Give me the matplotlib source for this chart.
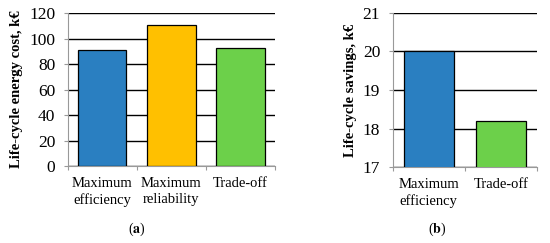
import matplotlib.pyplot as plt

plt.rcParams['font.family'] = ['Liberation Serif', 'DejaVu Serif']
plt.rcParams['mathtext.fontset'] = 'stix'

# panel (a)
cats_a = ['Maximum\nefficiency', 'Maximum\nreliability', 'Trade-off']
cost_a = [91.2, 111.1, 93.0]
colors_a = ['#2A7FC1', '#FFC000', '#6CD04A']
yticks_a = [0, 20, 40, 60, 80, 100, 120]

# panel (b)
cats_b = ['Maximum\nefficiency', 'Trade-off']
savings_b = [20.0, 18.2]
colors_b = ['#2A7FC1', '#6CD04A']
yticks_b = [17, 18, 19, 20, 21]

fig = plt.figure(figsize=(5.5, 2.43), dpi=100)
ax1 = fig.add_axes([0.123, 0.317, 0.377, 0.628])
ax2 = fig.add_axes([0.714, 0.3115, 0.262, 0.6365])


def style(ax, cats, vals, colors, yticks, ylabel):
    n = len(cats)
    ax.set_axisbelow(True)
    ax.grid(axis='y', color='black', linewidth=1.0)
    ax.bar(range(n), vals, width=0.7, color=colors, edgecolor='black', linewidth=0.9, zorder=3)
    ax.set_xlim(-0.5, n - 0.5)
    ax.set_ylim(yticks[0], yticks[-1])
    ax.set_yticks(yticks)
    ax.set_xticks([i - 0.5 for i in range(n + 1)])
    ax.set_xticklabels([])
    ax.set_xticks(range(n), minor=True)
    ax.set_xticklabels(cats, minor=True, fontsize=10.5, linespacing=1.3)
    ax.tick_params(axis='x', which='major', length=3, color='#999999')
    ax.tick_params(axis='x', which='minor', length=0, pad=8)
    ax.tick_params(axis='y', length=3, color='#999999', labelsize=12.5, pad=6)
    for s in ['top', 'right']:
        ax.spines[s].set_visible(False)
    for s in ['left', 'bottom']:
        ax.spines[s].set_color('#999999')
        ax.spines[s].set_linewidth(0.8)
    ax.set_ylabel(ylabel, fontsize=10.5, fontweight='bold', labelpad=4)


style(ax1, cats_a, cost_a, colors_a, yticks_a, 'Life-cycle energy cost, k€')
style(ax2, cats_b, savings_b, colors_b, yticks_b, 'Life-cycle savings, k€')

fig.text(137 / 550, 1 - 229 / 243, r'($\mathbf{a}$)', ha='center', va='center', fontsize=10)
fig.text(437 / 550, 1 - 229 / 243, r'($\mathbf{b}$)', ha='center', va='center', fontsize=10)

fig.savefig('out.png', dpi=100)
